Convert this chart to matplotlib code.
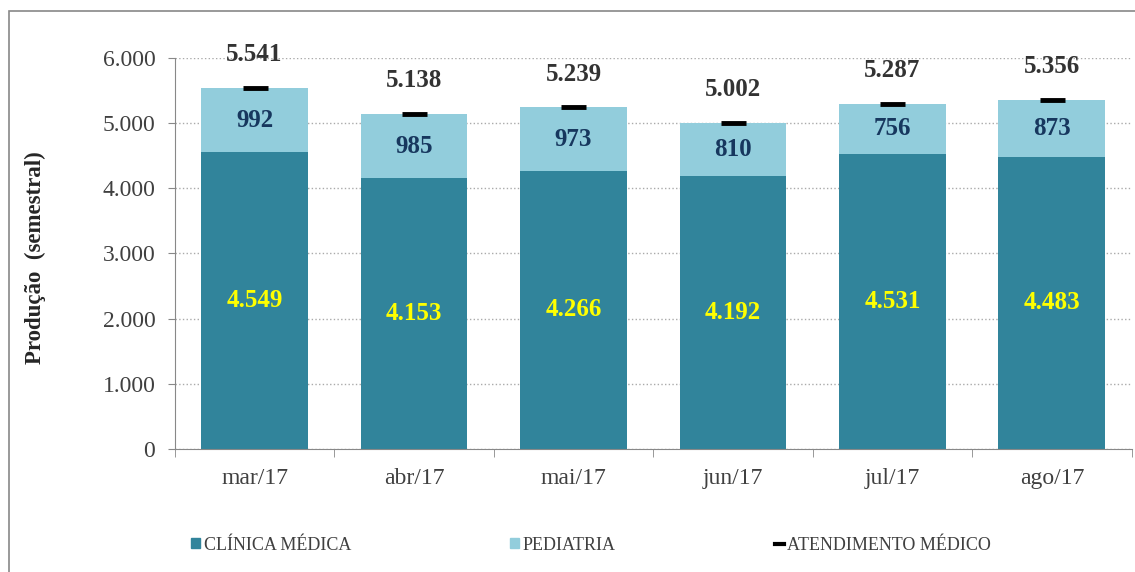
import numpy as np
import matplotlib.pyplot as plt
from matplotlib.patches import Rectangle
from matplotlib.lines import Line2D

# Data
meses = ['mar/17', 'abr/17', 'mai/17', 'jun/17', 'jul/17', 'ago/17']
clinica = [4549, 4153, 4266, 4192, 4531, 4483]
pediatria = [992, 985, 973, 810, 756, 873]
total = [5541, 5138, 5239, 5002, 5287, 5356]

def br(v):
    return '{:,}'.format(v).replace(',', '.')

plt.rcParams['font.family'] = ['Liberation Serif', 'DejaVu Serif']

c_dark = '#31849B'
c_light = '#92CDDC'

fig = plt.figure(figsize=(11.35, 5.72), dpi=100)
ax = fig.add_axes([0.154, 0.215, 0.843, 0.684])

x = np.arange(len(meses))
w = 0.67
ax.bar(x, clinica, w, color=c_dark, zorder=2)
ax.bar(x, pediatria, w, bottom=clinica, color=c_light, zorder=2)
ax.plot(x, total, ls='none', marker='_', ms=18, mew=3.5, color='black', zorder=3)

for i in range(len(x)):
    ax.text(x[i], clinica[i] / 2, br(clinica[i]), ha='center', va='center',
            color='#FFFF00', fontsize=18, fontweight='bold', zorder=4)
    ax.text(x[i], clinica[i] + pediatria[i] / 2, br(pediatria[i]), ha='center', va='center',
            color='#17375E', fontsize=18, fontweight='bold', zorder=4)
    ax.annotate(br(total[i]), (x[i], total[i]), xytext=(0, 24), textcoords='offset points',
                ha='center', va='center', color='#333333', fontsize=18, fontweight='bold')

ax.set_xlim(-0.5, len(meses) - 0.5)
ax.set_ylim(0, 6000)
ax.set_yticks(range(0, 6001, 1000))
ax.set_yticklabels([br(v) for v in range(0, 6001, 1000)], fontsize=17, color='#404040')
ax.set_xticks(x)
ax.set_xticklabels(meses, fontsize=17, color='#404040')
ax.set_xticks(np.arange(-0.5, len(meses), 1), minor=True)
ax.tick_params(axis='x', which='major', length=0, pad=14)
ax.tick_params(axis='x', which='minor', length=6, color='#888888', direction='out')
ax.tick_params(axis='y', length=5, color='#888888', direction='out', pad=9)
ax.yaxis.grid(True, ls=':', color='#AAAAAA', lw=1, zorder=0)
ax.set_axisbelow(True)
for s in ['top', 'right']:
    ax.spines[s].set_visible(False)
for s in ['left', 'bottom']:
    ax.spines[s].set_color('#888888')

fig.text(35 / 1135, 0.55, 'Produção  (semestral)', rotation=90, ha='center', va='center',
         fontsize=16.5, fontweight='bold', color='#262626')

# legend
handles = [Rectangle((0, 0), 1, 1, color=c_dark),
           Rectangle((0, 0), 1, 1, color=c_light),
           Line2D([], [], color='black', lw=3)]
labels = ['CLÍNICA MÉDICA', 'PEDIATRIA', 'ATENDIMENTO MÉDICO']
leg = fig.legend(handles, labels, loc='center', bbox_to_anchor=(0.521, 0.047), ncol=3,
                 frameon=False, prop={'family': 'Liberation Serif', 'size': 13},
                 handlelength=0.5, handleheight=0.5,
                 handletextpad=0.2, columnspacing=8.8)
for t in leg.get_texts():
    t.set_color('#404040')

# figure border
fig.patches.append(Rectangle((0.008, -0.01), 1.0, 0.99, transform=fig.transFigure,
                             fill=False, edgecolor='#888888', lw=1.2))

fig.savefig('out.png', dpi=100)
